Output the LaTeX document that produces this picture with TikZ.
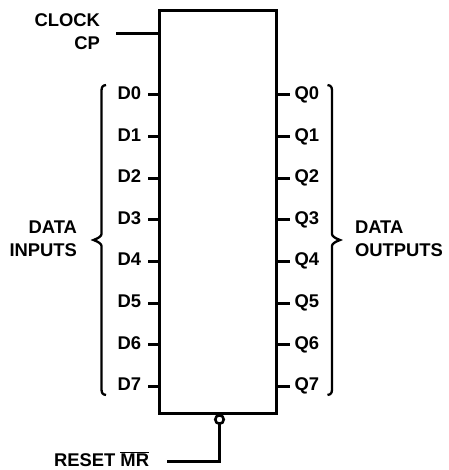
\documentclass[tikz,border=0pt]{standalone}
\usepackage{fontspec}
\setmainfont{Liberation Sans}
\tikzset{
  lbl/.style={inner sep=0pt,outer sep=0pt,font=\fontsize{18.4}{20}\selectfont\bfseries},
  wire/.style={line width=3pt,black},
  brace/.style={line width=2.3pt,black,line join=miter},
  chip/.style={draw,line width=3pt,minimum width=117pt,minimum height=402pt,inner sep=0pt,outer sep=0pt,anchor=north west},
  bub/.style={circle,draw,line width=2.6pt,fill=white,minimum size=8.5pt,inner sep=0pt,outer sep=0pt}
}
\begin{document}
\begin{tikzpicture}[x=1pt,y=-1pt]
\useasboundingbox (0,0) rectangle (448,470);
\node[chip] (box) at (159,11) {};
% clock
\coordinate (clkend) at (116,33.5);
\coordinate (clkin) at (159,33.5);
\draw[wire] (clkend) -- (clkin);
\node[lbl,anchor=base east] (clock) at (100,27) {CLOCK};
\node[lbl,anchor=base east] (cp) at (100,50) {CP};
% pins
\foreach \i in {0,...,7}{
  \pgfmathsetmacro{\yy}{95+41.6*\i}
  \coordinate (dp\i) at (159,\yy);
  \coordinate (de\i) at (148,\yy);
  \coordinate (qp\i) at (276,\yy);
  \coordinate (qe\i) at (289.5,\yy);
  \draw[wire] (de\i) -- (dp\i);
  \draw[wire] (qp\i) -- (qe\i);
  \node[lbl,anchor=base west] (d\i) at (117.5,\yy+4.5) {D\i};
  \node[lbl,anchor=base west] (q\i) at (294.5,\yy+4.5) {Q\i};
}
% braces
\draw[brace] (106,85) .. controls (102.5,85.5) and (101.5,87) .. (101.5,91) -- (101.5,234)
  .. controls (101.5,236) and (99,238) .. (93.5,240)
  .. controls (99,242) and (101.5,244) .. (101.5,246) -- (101.5,389)
  .. controls (101.5,393) and (102.5,394.5) .. (106,395);
\draw[brace] (327.5,85) .. controls (331,85.5) and (332,87) .. (332,91) -- (332,234)
  .. controls (332,236) and (334.5,238) .. (340,240)
  .. controls (334.5,242) and (332,244) .. (332,246) -- (332,389)
  .. controls (332,393) and (331,394.5) .. (327.5,395);
\node[lbl,anchor=base east] (dl) at (77,233) {DATA};
\node[lbl,anchor=base east] (il) at (77,256) {INPUTS};
\node[lbl,anchor=base west] (dr) at (355,233) {DATA};
\node[lbl,anchor=base west] (ol) at (355,256) {OUTPUTS};
% reset
\node[bub] (bubble) at (219.5,419.5) {};
\coordinate (rcorner) at (219.5,461);
\coordinate (rend) at (167,461);
\draw[wire] (bubble) -- (rcorner) -- (rend);
\node[lbl,anchor=base west] (reset) at (54,466.5) {RESET $\overline{\hbox{MR}}$};
\end{tikzpicture}
\end{document}
